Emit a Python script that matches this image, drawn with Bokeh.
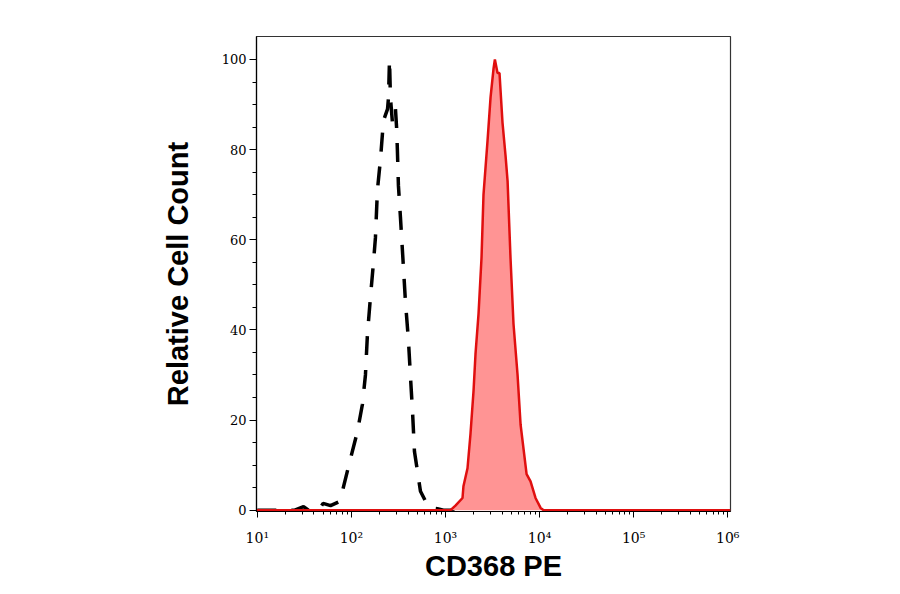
from bokeh.plotting import figure
from bokeh.models import FixedTicker, CustomJSTickFormatter, Range1d
from bokeh.embed import file_html
from bokeh.resources import INLINE

# isotype control (dashed black) - intensity vs relative count
iso_x = [10, 25, 31, 35, 46, 50, 60, 76, 82, 98, 116, 131, 141, 148, 159, 171,
         180, 189, 204, 219, 242, 248, 254, 260, 273, 294, 302, 308, 316, 332,
         357, 375, 404, 425, 446, 468, 542, 631, 692, 822, 953, 1585]
iso_y = [0, 0, 0.8, 0, 0.3, 1.5, 1.0, 2, 5, 11.5, 17.5, 23.5, 30, 39, 47, 54.6,
         60.4, 71, 78, 86.4, 89, 91.6, 100, 91.5, 86, 89, 85, 80, 72, 65,
         54, 46.4, 37.6, 29.4, 22, 13, 4.2, 1.5, 0.5, 0.3, 0, 0]

# CD368 PE stained sample (red, filled)
pe_x = [9.8, 1130, 1276, 1517, 1552, 1714, 1845, 1986, 2084, 2244, 2415, 2535,
        2799, 3013, 3243, 3350, 3573, 3750, 4036, 4345, 4571, 4909, 5284, 5834,
        6281, 7278, 8017, 9057, 10257, 11041, 1070000]
pe_y = [0, 0, 1, 2.7, 5.3, 9.3, 17, 26.4, 34.6, 43.5, 56, 70,
        82, 91.6, 98, 100, 97, 97, 86, 78.7, 73, 56, 41.3, 30,
        19, 8, 6.4, 2.7, 0.5, 0, 0]

x_ticks = [10, 100, 1000, 10000, 100000, 1000000]
x_minor = [m * 10 ** k for k in range(1, 6) for m in range(2, 10)]
y_ticks = [0, 20, 40, 60, 80, 100]
y_minor = [v for v in range(5, 105, 5) if v % 20 != 0]

p = figure(width=884, height=578, frame_width=474, frame_height=475,
           x_axis_type="log", output_backend="svg", toolbar_location=None,
           min_border_left=256, min_border_right=154, min_border_top=36,
           min_border_bottom=67)
p.x_range = Range1d(9.8, 1070000)
p.y_range = Range1d(-0.3, 105.1)

p.xgrid.visible = False
p.ygrid.visible = False
p.outline_line_color = "#333333"
p.outline_line_width = 1.2
p.background_fill_color = "white"

p.line(iso_x, iso_y, line_color="black", line_width=3.5, line_dash="19 15")
p.varea(x=pe_x, y1=[0] * len(pe_x), y2=pe_y, fill_color="#ff9494", fill_alpha=1.0)
p.line(pe_x, pe_y, line_color="#e00f0f", line_width=2.5)

p.xaxis.ticker = FixedTicker(ticks=x_ticks, minor_ticks=x_minor)
p.xaxis.formatter = CustomJSTickFormatter(code="""
const s = {1:'\u00b9', 2:'\u00b2', 3:'\u00b3', 4:'\u2074', 5:'\u2075', 6:'\u2076'};
return '10' + s[Math.round(Math.log10(tick))];
""")
p.yaxis.ticker = FixedTicker(ticks=y_ticks, minor_ticks=y_minor)

for ax in (p.xaxis[0], p.yaxis[0]):
    ax.axis_line_color = "black"
    ax.axis_line_width = 1.2
    ax.major_tick_line_color = "black"
    ax.minor_tick_line_color = "black"
    ax.major_tick_in = 0
    ax.minor_tick_in = 0
    ax.major_label_text_font = "DejaVu Serif"
    ax.major_label_text_font_size = "13px"
    ax.major_label_text_color = "black"
    ax.axis_label_text_font = "Liberation Sans"
    ax.axis_label_text_font_style = "bold"
    ax.axis_label_text_font_size = "29px"
    ax.axis_label_text_color = "black"

p.xaxis.major_tick_out = 6
p.xaxis.minor_tick_out = 3
p.xaxis.major_label_standoff = 12
p.xaxis.major_label_text_font_size = "14px"
p.xaxis.axis_label = "CD368 PE"
p.xaxis.axis_label_standoff = 1

p.yaxis.major_tick_out = 7
p.yaxis.minor_tick_out = 4
p.yaxis.major_label_standoff = 3
p.yaxis.axis_label = "Relative Cell Count"
p.yaxis.axis_label_standoff = 25

open("out.html", "w").write(file_html(p, INLINE))
